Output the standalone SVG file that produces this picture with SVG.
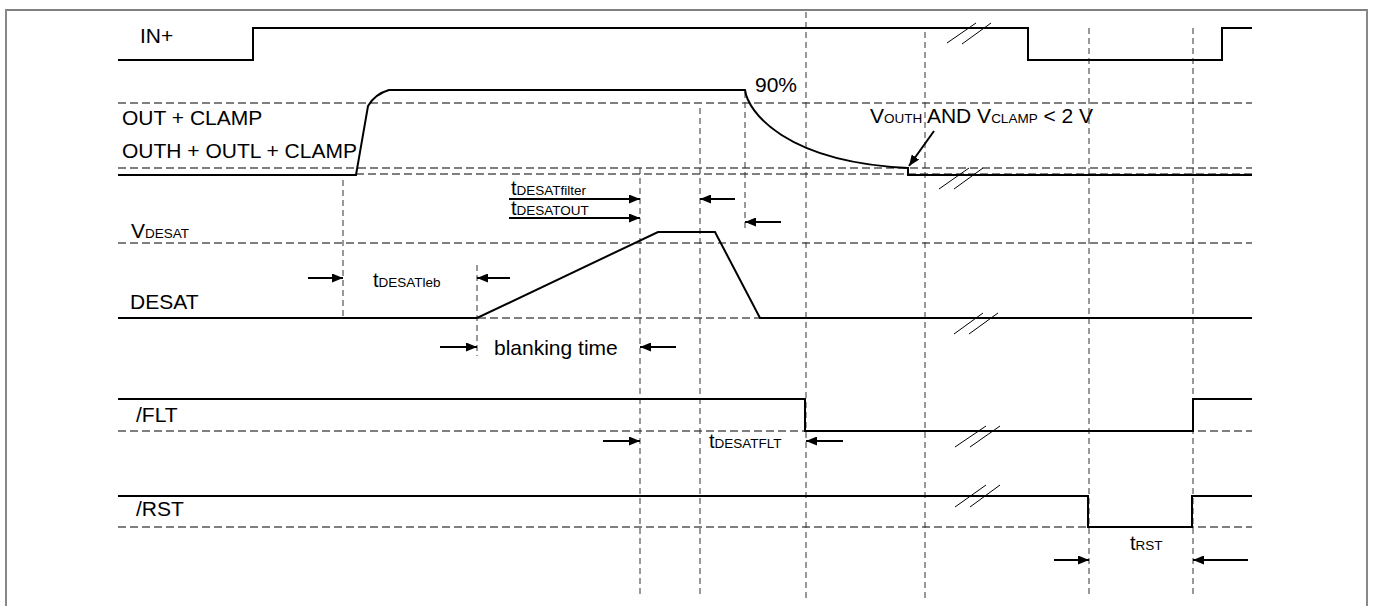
<svg xmlns="http://www.w3.org/2000/svg" width="1373" height="606" viewBox="0 0 1373 606">
<style>
.sig{fill:none;stroke:#000;stroke-width:2;stroke-linejoin:miter}
.hd{fill:none;stroke:#555;stroke-width:1.3;stroke-dasharray:8 4}
.vd{fill:none;stroke:#333;stroke-width:1;stroke-dasharray:6 4}
.brk{fill:none;stroke:#000;stroke-width:1}
.arr{fill:none;stroke:#000;stroke-width:2;marker-end:url(#ah)}
.lbl{font-family:"Liberation Sans",Arial,sans-serif;font-size:21px;fill:#000}
.t{font-family:"Liberation Sans",Arial,sans-serif;font-size:20px;fill:#000}
.sub{font-size:13.5px}
</style>
<defs>
<marker id="ah" markerUnits="userSpaceOnUse" markerWidth="11" markerHeight="9" refX="11" refY="4.5" orient="auto">
<path d="M0,0 L11,4.5 L0,9 z" fill="#000"/>
</marker>
</defs>
<rect x="0" y="0" width="1373" height="606" fill="#fff"/>
<g id="frame">
<line x1="6" y1="10" x2="1367" y2="10" stroke="#000" stroke-width="1"/>
<line x1="6" y1="9" x2="6" y2="606" stroke="#888" stroke-width="2"/>
<line x1="1367" y1="9" x2="1367" y2="606" stroke="#888" stroke-width="2"/>
</g>
<g id="grid">
<line class="hd" x1="118" y1="103" x2="1252" y2="103"/>
<line class="hd" x1="118" y1="168" x2="1252" y2="168"/>
<line class="hd" x1="356" y1="174" x2="1252" y2="174"/>
<line class="hd" x1="118" y1="243" x2="1252" y2="243"/>
<line class="hd" x1="118" y1="318" x2="1252" y2="318"/>
<line class="hd" x1="118" y1="431" x2="1252" y2="431"/>
<line class="hd" x1="118" y1="527" x2="1252" y2="527"/>
<line class="vd" x1="343" y1="180" x2="343" y2="320"/>
<line class="vd" x1="477" y1="265" x2="477" y2="356"/>
<line class="vd" x1="640" y1="168" x2="640" y2="598"/>
<line class="vd" x1="700" y1="108" x2="700" y2="598"/>
<line class="vd" x1="745" y1="92" x2="745" y2="230"/>
<line class="vd" x1="806" y1="12" x2="806" y2="598"/>
<line class="vd" x1="925" y1="32" x2="925" y2="598"/>
<line class="vd" x1="1089" y1="28" x2="1089" y2="598"/>
<line class="vd" x1="1193" y1="28" x2="1193" y2="598"/>
</g>
<g id="in-plus">
<path class="sig" d="M118,60 H253 V28 H1028 V60 H1222 V28 H1252"/>
<line class="brk" x1="947" y1="43" x2="976" y2="23"/>
<line class="brk" x1="962" y1="44" x2="991" y2="23"/>
<text class="lbl" x="140" y="43" font-size="20.5">IN+</text>
</g>
<g id="out">
<path class="sig" d="M118,175 H356 L368,106 Q375,94 389,90 H745 C748,112 785,162 908,168 V175 H1252"/>
<line class="brk" x1="939" y1="189" x2="969" y2="168"/>
<line class="brk" x1="954" y1="189" x2="983" y2="168"/>
<text class="lbl" x="122" y="125">OUT + CLAMP</text>
<text class="lbl" x="122" y="158">OUTH + OUTL + CLAMP</text>
<text class="lbl" x="755" y="92">90%</text>
<text class="lbl" x="870" y="123" font-size="20.5">V<tspan class="sub" font-size="14">OUTH</tspan> AND V<tspan class="sub" font-size="14">CLAMP</tspan> &lt; 2 V</text>
</g>
<g id="desat">
<path class="sig" d="M118,318 H477 L658,232 H715 L760,318 H1252"/>
<line class="brk" x1="954" y1="334" x2="983" y2="313"/>
<line class="brk" x1="969" y1="334" x2="998" y2="313"/>
<text class="lbl" x="131" y="238">V<tspan class="sub">DESAT</tspan></text>
<text class="lbl" x="130" y="309" font-size="20.5">DESAT</text>
<text class="t" x="373" y="287">t<tspan class="sub">DESATleb</tspan></text>
<text class="lbl" x="494" y="355">blanking time</text>
<text class="t" x="511" y="195" font-size="17">t<tspan class="sub">DESATfilter</tspan></text>
<text class="t" x="511" y="215" font-size="17">t<tspan class="sub">DESATOUT</tspan></text>
</g>
<g id="flt">
<path class="sig" d="M118,399 H805 V431 H1193 V399 H1252"/>
<line class="brk" x1="955" y1="447" x2="986" y2="426"/>
<line class="brk" x1="970" y1="447" x2="1000" y2="426"/>
<text class="lbl" x="136" y="422">/FLT</text>
<text class="t" x="709" y="448" font-size="18">t<tspan class="sub" font-size="12.5">DESATFLT</tspan></text>
</g>
<g id="rst">
<path class="sig" d="M118,496 H1088 V527 H1192 V496 H1252"/>
<line class="brk" x1="955" y1="507" x2="986" y2="485"/>
<line class="brk" x1="970" y1="507" x2="1000" y2="485"/>
<text class="lbl" x="136" y="516">/RST</text>
<text class="t" x="1130" y="550">t<tspan class="sub" font-size="13">RST</tspan></text>
</g>
<g id="connectors">
<line class="arr" x1="308" y1="278" x2="343" y2="278"/>
<line class="arr" x1="510" y1="278" x2="477" y2="278"/>
<line class="arr" x1="440" y1="347" x2="477" y2="347"/>
<line class="arr" x1="676" y1="347" x2="640" y2="347"/>
<line class="arr" x1="509" y1="199" x2="640" y2="199"/>
<line class="arr" x1="509" y1="218" x2="640" y2="218"/>
<line class="arr" x1="735" y1="199" x2="700" y2="199"/>
<line class="arr" x1="781" y1="222" x2="745" y2="222"/>
<line class="arr" x1="603" y1="441" x2="640" y2="441"/>
<line class="arr" x1="843" y1="441" x2="806" y2="441"/>
<line class="arr" x1="1054" y1="560" x2="1089" y2="560"/>
<line class="arr" x1="1248" y1="560" x2="1193" y2="560"/>
<line class="arr" x1="934" y1="131" x2="909" y2="166"/>
</g>
</svg>
